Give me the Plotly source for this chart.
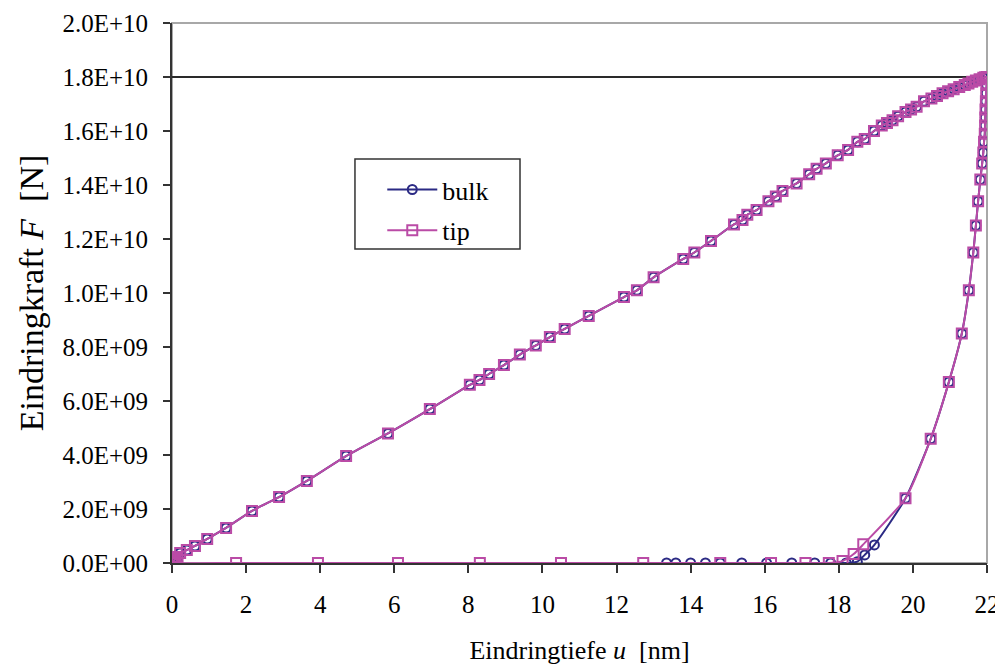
import plotly.graph_objects as go

# ---------------- data (u in nm, F in units of 1e9 N) ----------------
load_u = [0.0, 0.005, 0.01, 0.02, 0.03, 0.04, 0.05, 0.07, 0.10, 0.15, 0.22, 0.40, 0.62, 0.95,
          1.46, 2.16, 2.89, 3.64, 4.70, 5.83, 6.96, 8.04, 8.30, 8.56, 8.96, 9.39, 9.82,
          10.2, 10.6, 11.25, 12.2, 12.55, 13.0, 13.8, 14.1, 14.55, 15.17, 15.4, 15.53,
          15.78, 16.1, 16.3, 16.48, 16.86, 17.2, 17.4, 17.65, 17.97, 18.25, 18.5, 18.7,
          18.95, 19.16, 19.3, 19.45, 19.6, 19.8, 19.95, 20.1, 20.3, 20.5, 20.65,
          20.8, 20.95, 21.1, 21.25, 21.4, 21.5, 21.6, 21.7, 21.8, 21.9, 21.95, 22.0]
load_F = [0.0, 0.01, 0.02, 0.03, 0.05, 0.07, 0.09, 0.11, 0.16, 0.22, 0.37, 0.48, 0.63, 0.89,
          1.30, 1.93, 2.44, 3.04, 3.96, 4.80, 5.70, 6.60, 6.78, 7.00, 7.33, 7.72, 8.06,
          8.37, 8.67, 9.15, 9.85, 10.1, 10.58, 11.26, 11.5, 11.93, 12.54, 12.7, 12.9,
          13.07, 13.4, 13.57, 13.78, 14.06, 14.4, 14.6, 14.8, 15.1, 15.3, 15.6, 15.7,
          16.0, 16.2, 16.3, 16.4, 16.55, 16.7, 16.8, 16.9, 17.1, 17.2, 17.3,
          17.4, 17.47, 17.55, 17.63, 17.7, 17.76, 17.82, 17.87, 17.92, 17.97, 17.99, 18.0]

unload_u = [21.99, 21.98, 21.97, 21.96, 21.955, 21.95, 21.94, 21.92, 21.9, 21.87,
            21.82, 21.76, 21.7, 21.63, 21.51, 21.32, 20.97, 20.48, 19.8]
unload_F = [17.7, 17.4, 17.1, 16.8, 16.5, 16.2, 15.9, 15.6, 15.2, 14.8,
            14.2, 13.4, 12.5, 11.5, 10.1, 8.5, 6.7, 4.6, 2.4]

tip_end_u = [18.66, 18.4, 18.1, 17.73, 17.1, 16.17, 14.8, 12.72, 10.5, 8.31, 6.1, 3.94, 1.73, 0.0]
tip_end_F = [0.69, 0.33, 0.07, 0.0, 0.0, 0.0, 0.0, 0.0, 0.0, 0.0, 0.0, 0.0, 0.0, 0.0]

bulk_end_u = [18.96, 18.7, 18.5, 18.2, 17.78, 17.35, 16.73, 16.05, 15.38, 14.8, 14.4, 14.0, 13.6, 13.35]
bulk_end_F = [0.67, 0.30, 0.05, 0.0, 0.0, 0.0, 0.0, 0.0, 0.0, 0.0, 0.0, 0.0, 0.0, 0.0]

F_scale = 1e9
ref_line_F = 1.8e10

y_tickvals = [i * 2e9 for i in range(11)]
y_ticktext = ["0.0E+00", "2.0E+09", "4.0E+09", "6.0E+09", "8.0E+09", "1.0E+10",
              "1.2E+10", "1.4E+10", "1.6E+10", "1.8E+10", "2.0E+10"]
x_tickvals = list(range(0, 23, 2))

bulk_color = "#2B2A84"
tip_color = "#BA4BA6"
FONT = "Liberation Serif, Times New Roman, serif"

bulk_u = load_u + unload_u + bulk_end_u
bulk_F = [f * F_scale for f in load_F + unload_F + bulk_end_F]
tip_u = load_u + unload_u + tip_end_u
tip_F = [f * F_scale for f in load_F + unload_F + tip_end_F]

fig = go.Figure()
fig.add_trace(go.Scatter(
    x=bulk_u, y=bulk_F, name="bulk", mode="lines+markers", legendgroup="a",
    line=dict(color=bulk_color, width=2, shape="spline", smoothing=0.6),
    marker=dict(symbol="circle-open", size=9, color=bulk_color, line=dict(width=2, color=bulk_color)),
))
fig.add_trace(go.Scatter(
    x=tip_u, y=tip_F, name="tip", mode="lines+markers", legendgroup="b",
    line=dict(color=tip_color, width=2, shape="spline", smoothing=0.6),
    marker=dict(symbol="square-open", size=10, color=tip_color, line=dict(width=2, color=tip_color)),
))

# plot-area frame (grey), reference line and legend frame
fig.add_shape(type="rect", xref="paper", yref="paper", x0=0, x1=1, y0=0, y1=1,
              line=dict(color="#A8A8A8", width=2), layer="below")
fig.add_shape(type="line", xref="paper", yref="y", x0=0, x1=1, y0=ref_line_F, y1=ref_line_F,
              line=dict(color="#2A2A2A", width=2), layer="below")
fig.add_shape(type="rect", xref="paper", yref="paper", x0=0.2245, x1=0.427, y0=0.5815, y1=0.748,
              line=dict(color="#333333", width=1.5), fillcolor="white", layer="below")

# the page body has an 8px margin: figure is 8px smaller, left/top margins shifted
fig.update_layout(
    width=995, height=661,
    margin=dict(l=164, r=16, t=15, b=106, autoexpand=False),
    paper_bgcolor="white", plot_bgcolor="white",
    font=dict(family=FONT, size=25, color="black"),
    showlegend=True,
    legend=dict(
        x=0.258, y=0.735, xanchor="left", yanchor="top",
        bgcolor="rgba(0,0,0,0)", borderwidth=0, itemwidth=50, tracegroupgap=4,
        font=dict(family=FONT, size=26, color="black"),
    ),
    xaxis=dict(
        range=[0, 22], tickvals=x_tickvals, ticks="outside", ticklen=8,
        tickcolor="#333333", tickwidth=2, showline=True, linecolor="#333333", linewidth=2,
        showgrid=False, zeroline=False, ticklabelstandoff=10, automargin=False,
        tickfont=dict(family=FONT, size=25, color="black"),
        title=dict(text="Eindringtiefe <i>u</i>  [nm]", font=dict(family=FONT, size=26), standoff=24),
    ),
    yaxis=dict(
        range=[0, 2e10], tickvals=y_tickvals, ticktext=y_ticktext, ticks="outside", ticklen=7,
        tickcolor="#333333", tickwidth=2, showline=True, linecolor="#333333", linewidth=2,
        showgrid=False, zeroline=False, ticklabelstandoff=10, automargin=False,
        tickfont=dict(family=FONT, size=25, color="black"),
        title=dict(text="Eindringkraft <i>F</i>  [N]", font=dict(family=FONT, size=34), standoff=8),
    ),
)

fig.write_html("out.html")
